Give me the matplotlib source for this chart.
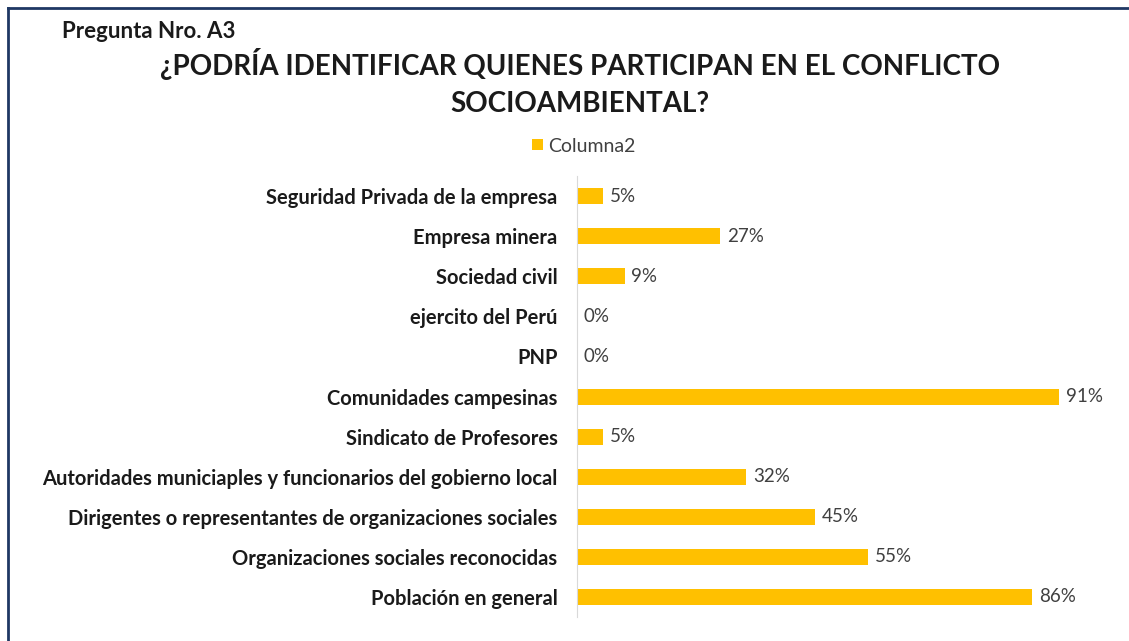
import matplotlib.pyplot as plt
from matplotlib.lines import Line2D

plt.rcParams['font.family'] = ['Lato', 'DejaVu Sans']

categorias = [
    'Seguridad Privada de la empresa',
    'Empresa minera',
    'Sociedad civil',
    'ejercito del Perú',
    'PNP',
    'Comunidades campesinas',
    'Sindicato de Profesores',
    'Autoridades municiaples y funcionarios del gobierno local',
    'Dirigentes o representantes de organizaciones sociales',
    'Organizaciones sociales reconocidas',
    'Población en general',
]
porcentajes = [5, 27, 9, 0, 0, 91, 5, 32, 45, 55, 86]
serie = 'Columna2'

color_barra = '#FFC000'

fig = plt.figure(figsize=(11.29, 6.41), dpi=100)
ax = fig.add_axes([0.511, 0.0374, 0.469, 0.688])

pos = list(range(len(categorias)))
ax.barh(pos, porcentajes, height=0.4, color=color_barra, label=serie)
ax.set_xlim(0, 100)
ax.set_ylim(-0.5, len(categorias) - 0.5)
ax.invert_yaxis()

for p, v in zip(pos, porcentajes):
    ax.text(v + 1.3, p, f'{v}%', va='center', ha='left', fontsize=13.5, color='#404040')

ax.set_yticks(pos)
ax.set_yticklabels(categorias, fontsize=14.5, fontweight='bold', color='#1a1a1a')
ax.tick_params(axis='y', length=0, pad=14)
ax.set_xticks([])
for s in ['top', 'right', 'bottom']:
    ax.spines[s].set_visible(False)
ax.spines['left'].set_color('#d9d9d9')
ax.spines['left'].set_linewidth(0.8)

# titulos
fig.text(62 / 1129, 1 - 31 / 641, 'Pregunta Nro. A3', fontsize=16, fontweight='bold',
         va='center', ha='left', color='#1a1a1a')
fig.text(580 / 1129, 1 - 64 / 641, '¿PODRÍA IDENTIFICAR QUIENES PARTICIPAN EN EL CONFLICTO',
         fontsize=20, fontweight='bold', va='center', ha='center', color='#1a1a1a')
fig.text(580 / 1129, 1 - 104 / 641, 'SOCIOAMBIENTAL?',
         fontsize=20, fontweight='bold', va='center', ha='center', color='#1a1a1a')

# leyenda
fig.legend(loc='center', bbox_to_anchor=(584 / 1129, 1 - 146 / 641), frameon=False,
           fontsize=14, handlelength=0.55, handleheight=0.55, handletextpad=0.3,
           labelcolor='#404040')

# marco
marco = '#1F3864'
fig.add_artist(Line2D([8 / 1129, 8 / 1129], [0, 1 - 8 / 641], color=marco, lw=2,
                      transform=fig.transFigure))
fig.add_artist(Line2D([8 / 1129, 1], [1 - 8 / 641, 1 - 8 / 641], color=marco, lw=2,
                      transform=fig.transFigure))

fig.savefig('out.png', dpi=100)
